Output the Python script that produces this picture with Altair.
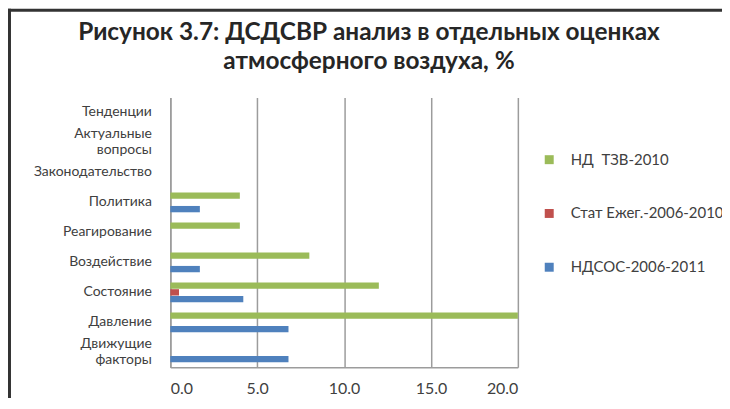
import altair as alt
import pandas as pd

categories = ["Тенденции", "Актуальные вопросы", "Законодательство", "Политика",
              "Реагирование", "Воздействие", "Состояние", "Давление", "Движущие факторы"]
series_names = ["НД\u00a0\u00a0ТЗВ-2010", "Стат Ежег.-2006-2010", "НДСОС-2006-2011"]
nd_tzv = [0, 0, 0, 4.0, 4.0, 8.0, 12.0, 20.0, 0]
stat_ezheg = [0, 0, 0, 0, 0, 0, 0.5, 0, 0]
ndsos = [0, 0, 0, 1.7, 0, 1.7, 4.2, 6.8, 6.8]
colors = ["#9BBB59", "#C0504D", "#4F81BD"]
x_ticks = [0, 5, 10, 15, 20]
title_lines = ["Рисунок 3.7: ДСДСВР анализ в отдельных оценках", "атмосферного воздуха, %"]

rows = []
for name, vals in zip(series_names, [nd_tzv, stat_ezheg, ndsos]):
    for c, v in zip(categories, vals):
        rows.append({"cat": c, "series": name, "value": v})
df = pd.DataFrame(rows)

FONT = "Lato"
TXT = "#404040"
GRID = "#9c9c9c"

bars = alt.Chart(df).mark_bar().encode(
    x=alt.X("value:Q",
            scale=alt.Scale(domain=[0, 20], nice=False),
            axis=alt.Axis(values=x_ticks, format=".1f", title=None, grid=True,
                          gridColor=GRID, gridWidth=1.5, domainColor=GRID, domainWidth=1.5,
                          ticks=False, labelPadding=13, labelFontSize=16, labelFont=FONT,
                          labelColor=TXT)),
    y=alt.Y("cat:N", sort=categories,
            scale=alt.Scale(paddingInner=0.34, paddingOuter=0.17),
            axis=alt.Axis(title=None, ticks=False, domainColor=GRID, domainWidth=1.5,
                          labelExpr="split(datum.label, ' ')", labelLineHeight=16,
                          labelOffset={"condition": {"test": "indexof(datum.label, ' ') >= 0",
                                                     "value": -8}, "value": 0},
                          labelPadding=19, labelFontSize=14, labelFont=FONT, labelColor=TXT,
                          grid=False)),
    yOffset=alt.YOffset("series:N", sort=series_names,
                        scale=alt.Scale(paddingInner=0.06, paddingOuter=0)),
    color=alt.Color("series:N", sort=series_names,
                    scale=alt.Scale(domain=series_names, range=colors),
                    legend=alt.Legend(title=None, orient="none", legendX=373, legendY=55,
                                      symbolType="square", symbolSize=81, symbolStrokeWidth=0,
                                      rowPadding=38, labelOffset=14, labelFontSize=15,
                                      labelLimit=300,
                                      labelFont=FONT, labelColor=TXT, padding=0)),
)

frame = alt.Data(values=[{"k": 1}])
left_line = alt.Chart(frame).mark_rule(color="#333333", strokeWidth=3).encode(
    x=alt.value(-161.5), y=alt.value(-89), y2=alt.value(320))
top_line = alt.Chart(frame).mark_rule(color="#333333", strokeWidth=3).encode(
    y=alt.value(-87.5), x=alt.value(-163), x2=alt.value(560))

chart = alt.layer(bars, left_line, top_line).properties(
    width=349, height=271,
    title=alt.TitleParams(text=title_lines, fontSize=24.5, font=FONT, fontWeight="bold",
                          color="#262626", lineHeight=29, anchor="middle", dx=25, offset=-67),
    autosize=alt.AutoSizeParams(type="none"),
    padding={"left": 163, "top": 89, "right": 205, "bottom": 30},
).configure_view(strokeWidth=0)

chart.save("out.html", embed_options={"renderer": "svg", "actions": False})
